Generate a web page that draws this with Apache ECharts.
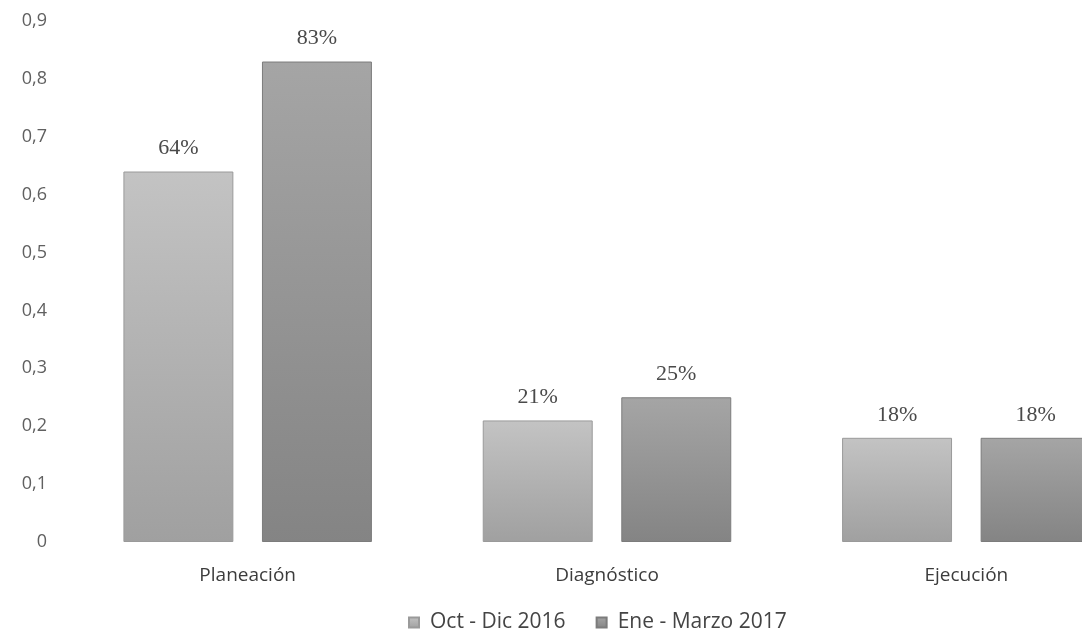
<!DOCTYPE html>
<html>
<head>
<meta charset="utf-8">
<script src="https://cdn.jsdelivr.net/npm/echarts@6/dist/echarts.min.js"></script>
<style>
  html, body { margin: 0; padding: 0; background: #ffffff; overflow: hidden; width: 1082px; height: 638px; }
  /* the drawing is wider than the page, so the last bar is cut at the right edge */
  #chart { width: 1146px; height: 638px; }
</style>
</head>
<body>
<div id="chart"></div>
<script>
// Phases and the share reached in each period
const categories = ['Planeación', 'Diagnóstico', 'Ejecución'];
const seriesNames = ['Oct - Dic 2016', 'Ene - Marzo 2017'];
const octDic2016 = [0.64, 0.21, 0.18];
const eneMarzo2017 = [0.83, 0.25, 0.18];

const chart = echarts.init(document.getElementById('chart'));

function grad(top, bottom) {
  return new echarts.graphic.LinearGradient(0, 0, 0, 1, [
    { offset: 0, color: top },
    { offset: 1, color: bottom }
  ]);
}

const sans = '"Open Sans", Lato, sans-serif';

const valueLabel = {
  show: true,
  position: 'top',
  distance: 12,
  fontFamily: '"Liberation Serif", "DejaVu Serif", serif',
  fontSize: 22,
  color: '#4a4a4a',
  formatter: p => Math.round(p.value * 100) + '%'
};

chart.setOption({
  backgroundColor: '#ffffff',
  animation: false,
  grid: { left: 68, right: 0, top: 21, bottom: 96 },
  legend: {
    data: seriesNames,
    bottom: 0,
    left: 403,
    itemWidth: 10,
    itemHeight: 10,
    itemGap: 30,
    icon: 'rect',
    textStyle: {
      fontFamily: sans,
      fontSize: 21,
      color: '#444444',
      padding: [0, 0, 0, 6]
    }
  },
  xAxis: {
    type: 'category',
    data: categories,
    axisLine: { show: false },
    axisTick: { show: false },
    axisLabel: {
      margin: 24,
      fontFamily: sans,
      fontSize: 19,
      color: '#3c3c3c'
    }
  },
  yAxis: {
    type: 'value',
    min: 0,
    max: 0.9,
    interval: 0.1,
    splitLine: { show: false },
    axisLine: { show: false },
    axisTick: { show: false },
    axisLabel: {
      margin: 21,
      fontFamily: sans,
      fontSize: 18,
      color: '#606060',
      formatter: v => (v === 0 ? '0' : v.toFixed(1).replace('.', ','))
    }
  },
  series: [
    {
      name: seriesNames[0],
      type: 'bar',
      data: octDic2016,
      barWidth: '30.6%',
      barGap: '26%',
      itemStyle: {
        color: grad('#c3c3c3', '#a0a0a0'),
        borderColor: '#9a9a9a',
        borderWidth: 1
      },
      label: valueLabel
    },
    {
      name: seriesNames[1],
      type: 'bar',
      data: eneMarzo2017,
      barWidth: '30.6%',
      itemStyle: {
        color: grad('#a5a5a5', '#848484'),
        borderColor: '#7c7c7c',
        borderWidth: 1
      },
      label: valueLabel
    }
  ]
});
</script>
</body>
</html>
